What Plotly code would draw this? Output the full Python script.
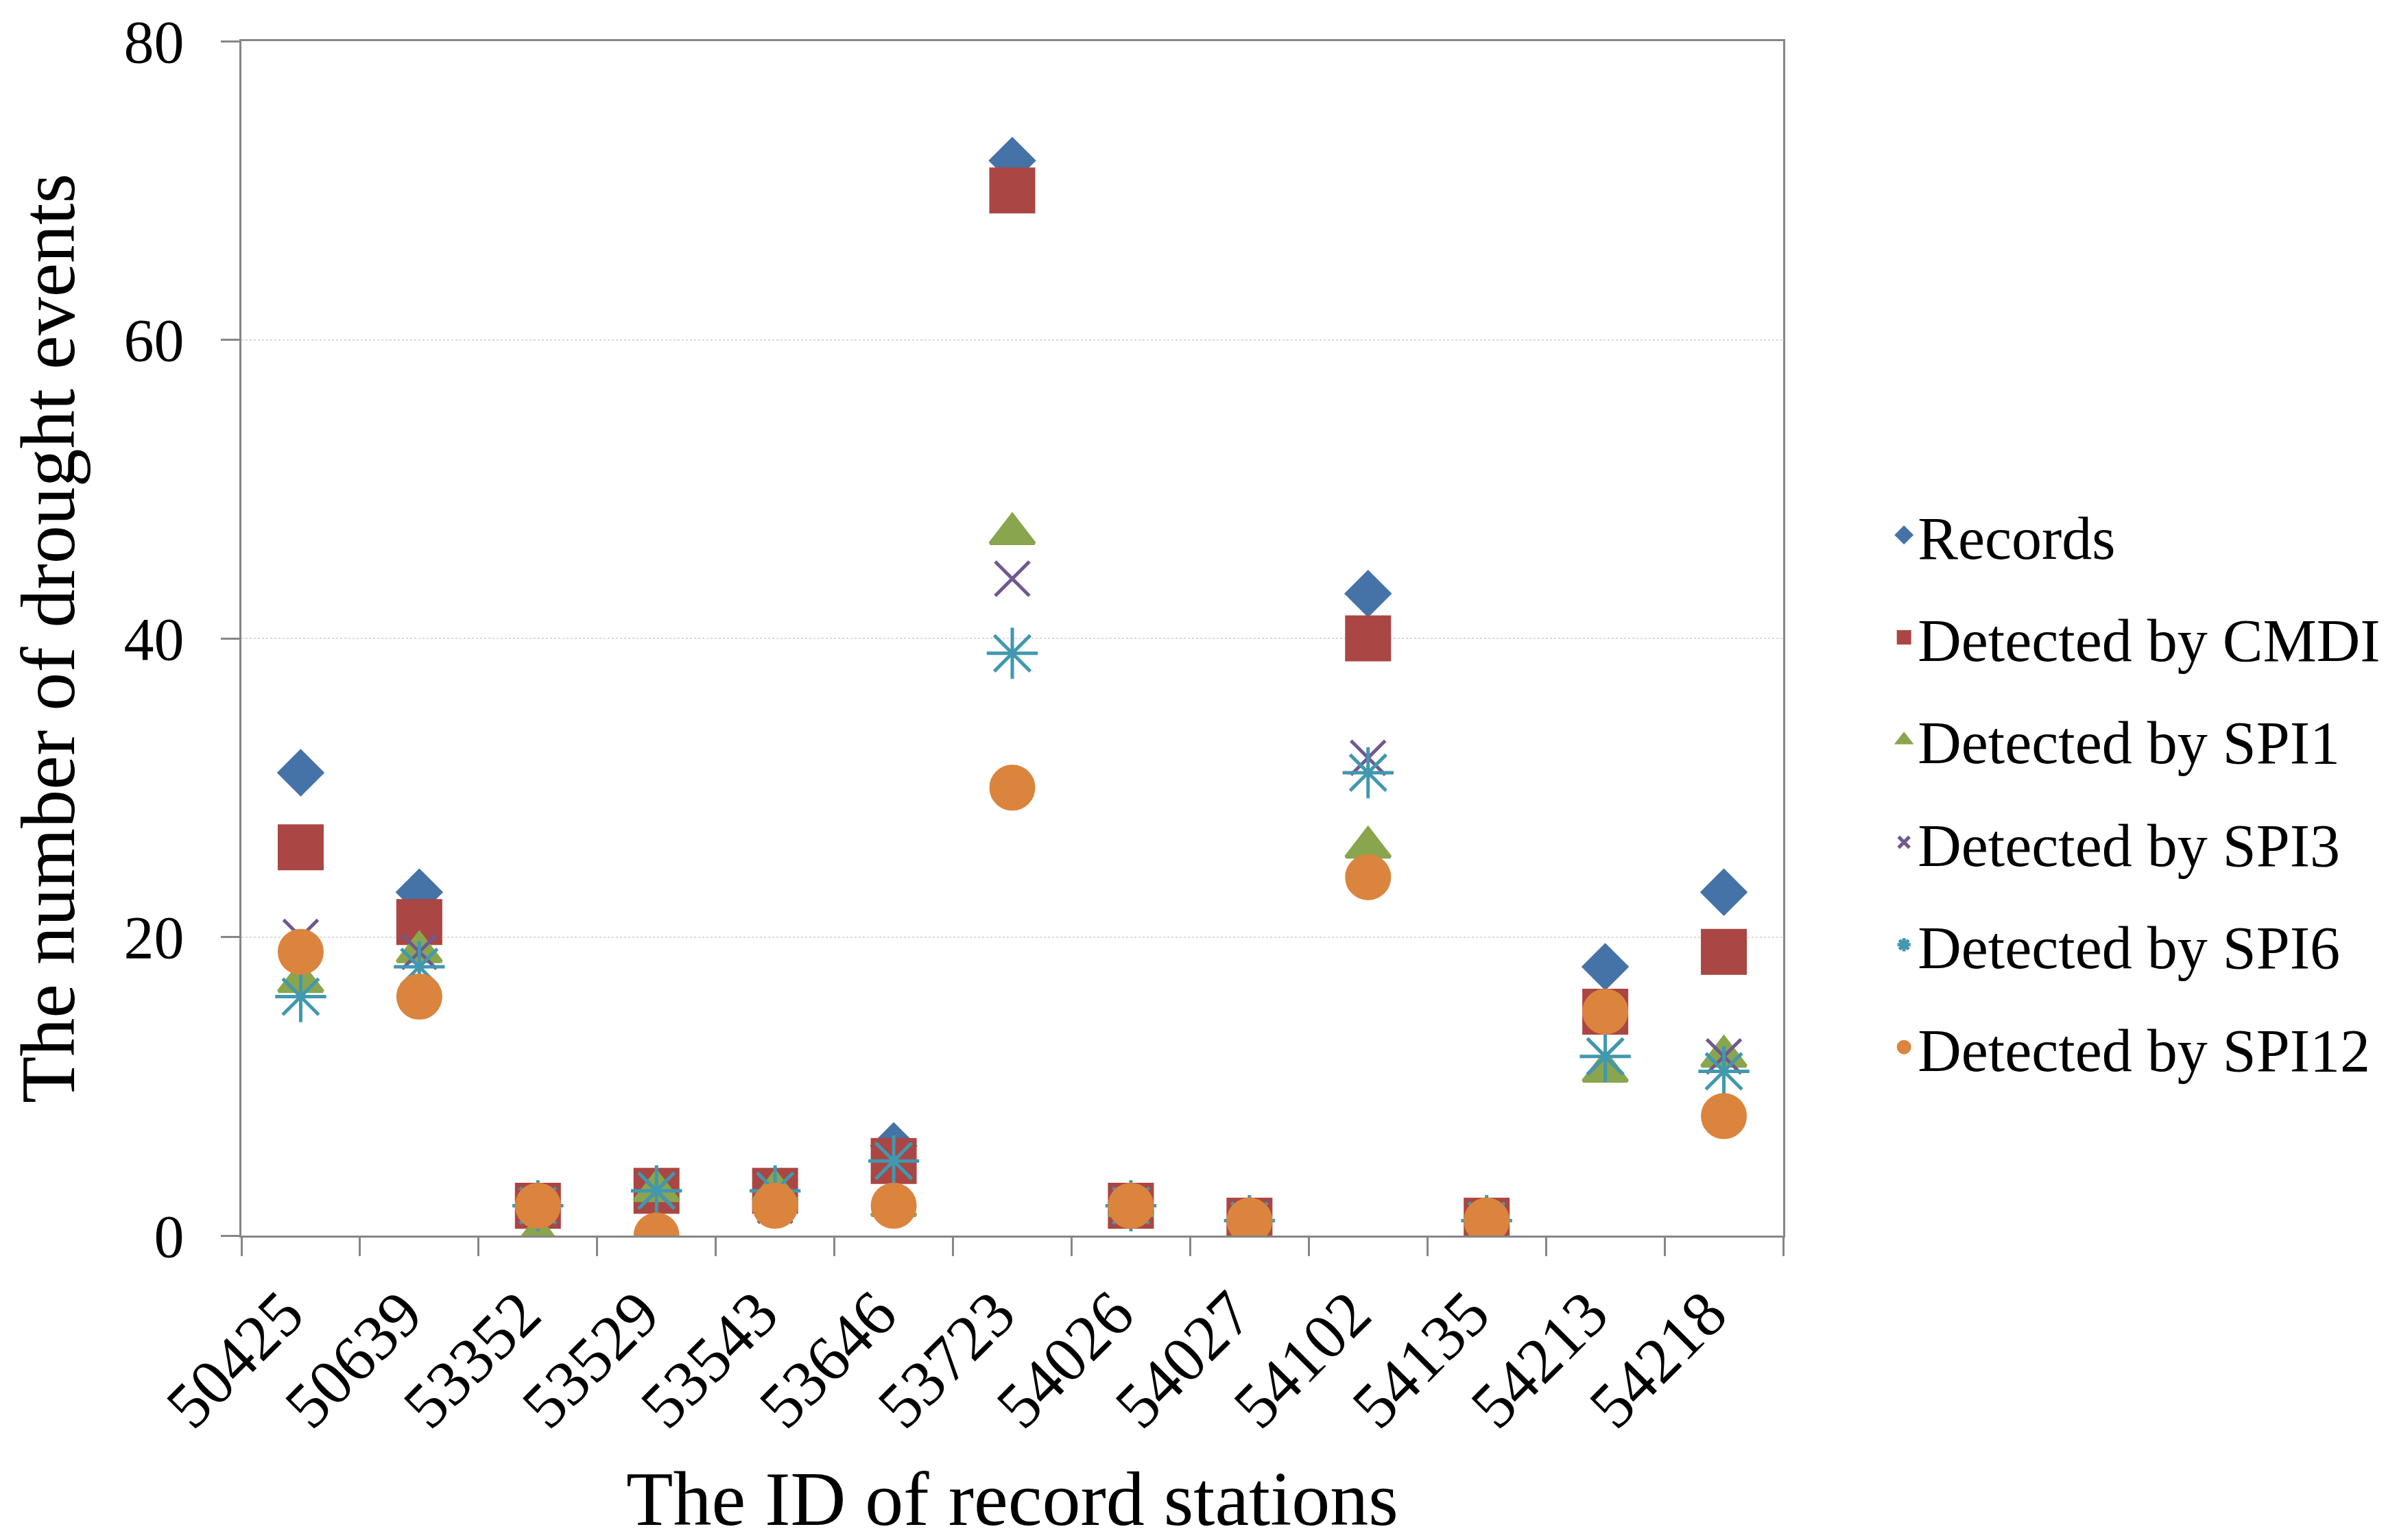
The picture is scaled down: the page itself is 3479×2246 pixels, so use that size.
import plotly.graph_objects as go

# station IDs on the x axis
stations = ["50425", "50639", "53352", "53529", "53543", "53646", "53723",
            "54026", "54027", "54102", "54135", "54213", "54218"]

# number of drought events per station
records = [31, 23, 2, 3, 3, 6, 72, 2, 1, 43, 1, 18, 23]
cmdi = [26, 21, 2, 3, 3, 5, 70, 2, 1, 40, 1, 15, 19]
spi1 = [17, 19, 0, 3, 3, 2, 47, 2, 0, 26, 0, 11, 12]
spi3 = [20, 19, 2, 3, 2, 5, 44, 2, 1, 32, 1, 12, 12]
spi6 = [16, 18, 2, 3, 3, 5, 39, 2, 1, 31, 1, 12, 11]
spi12 = [19, 16, 2, 0, 2, 2, 30, 2, 1, 24, 1, 15, 8]

series_names = ["Records", "Detected by CMDI", "Detected by SPI1",
                "Detected by SPI3", "Detected by SPI6", "Detected by SPI12"]

FONT = "Liberation Serif"

# filled markers get an outline in their own colour so the legend symbols come out a bit bigger
styles = [
    dict(symbol="diamond", size=48, color="#4572A7", line=dict(width=5, color="#4572A7")),
    dict(symbol="square", size=62, color="#AA4643", line=dict(width=5, color="#AA4643")),
    dict(symbol="triangle-up", size=56, color="#89A54E", line=dict(width=5, color="#89A54E")),
    dict(symbol="x-thin-open", size=50, color="#71588F", line=dict(width=5, color="#71588F")),
    dict(symbol="asterisk-open", size=62, color="#4198AF", line=dict(width=5, color="#4198AF")),
    dict(symbol="circle", size=62, color="#DB843D", line=dict(width=5, color="#DB843D")),
]

fig = go.Figure()
for name, vals, st in zip(series_names, [records, cmdi, spi1, spi3, spi6, spi12], styles):
    fig.add_trace(go.Scatter(
        x=stations, y=vals, mode="markers", name=name, legendgroup=name,
        marker=st,
    ))

axis_col = "#868686"
fig.update_layout(
    width=3479, height=2246,
    paper_bgcolor="white", plot_bgcolor="white",
    margin=dict(l=344, r=886, t=52, b=452),
    font=dict(family=FONT, color="black", size=90),
    legend=dict(
        x=1.069, xanchor="left", y=0.372, yanchor="middle",
        font=dict(family=FONT, size=88, color="black"),
        tracegroupgap=32, bgcolor="rgba(0,0,0,0)",
    ),
    showlegend=True,
)
fig.update_xaxes(
    type="category", range=[-0.5, len(stations) - 0.5], automargin=False,
    tickangle=-45, tickson="boundaries",
    ticks="outside", ticklen=27, tickwidth=3, tickcolor=axis_col,
    showline=True, linecolor=axis_col, linewidth=3, mirror=True,
    showgrid=False, tickfont=dict(family=FONT, size=94),
    ticklabelstandoff=18, ticklabelshift=-24, ticklabeloverflow="allow",
    title=dict(text="The ID of record stations", font=dict(family=FONT, size=112), standoff=45),
)
fig.update_yaxes(
    range=[0, 80], dtick=20, tick0=0, automargin=False,
    ticks="outside", ticklen=27, tickwidth=3, tickcolor=axis_col,
    showline=True, linecolor=axis_col, linewidth=3, mirror=True,
    showgrid=True, gridcolor="#D9D9D9", gridwidth=2, griddash="dot",
    zeroline=False, tickfont=dict(family=FONT, size=88),
    ticklabelstandoff=36, ticklabeloverflow="allow",
    title=dict(text="The number of drought events", font=dict(family=FONT, size=112), standoff=45),
)

fig.write_html("out.html")
